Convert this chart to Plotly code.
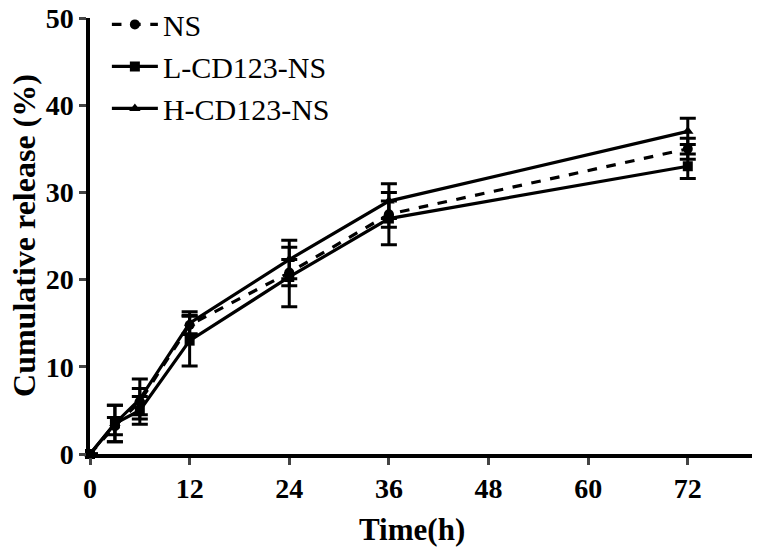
import plotly.graph_objects as go

time_h = [0, 3, 6, 12, 24, 36, 72]
ns = [0, 3.2, 6.0, 14.8, 20.8, 27.5, 35.0]
ns_err = [0, 1.0, 1.5, 1.0, 1.5, 1.5, 1.2]
l_cd = [0, 3.5, 5.0, 13.0, 20.3, 27.0, 33.0]
l_err = [0, 2.1, 1.6, 2.9, 3.4, 3.0, 1.4]
h_cd = [0, 3.5, 6.3, 15.0, 22.3, 29.0, 37.0]
h_err = [0, 2.1, 2.3, 1.3, 2.2, 2.0, 1.5]
x_ticks = [0, 12, 24, 36, 48, 60, 72]
y_ticks = [0, 10, 20, 30, 40, 50]

FONT = "Liberation Serif, Times New Roman, serif"

fig = go.Figure()
series = [
    ("NS", ns, ns_err, "circle", "dash"),
    ("L-CD123-NS", l_cd, l_err, "square", "solid"),
    ("H-CD123-NS", h_cd, h_err, "triangle-up", "solid"),
]
for i, (name, y, e, sym, dash) in enumerate(series):
    fig.add_trace(go.Scatter(
        x=time_h, y=y, name=name, mode="lines+markers",
        line=dict(color="black", width=3.2, dash=dash),
        marker=dict(symbol=sym, size=10, color="black"),
        error_y=dict(type="data", array=e, visible=True, color="black", thickness=3, width=8),
        cliponaxis=False, legendgroup=f"g{i}",
    ))

fig.update_layout(
    width=760, height=554,
    margin=dict(l=82, r=3, t=10, b=108, autoexpand=False),
    plot_bgcolor="white", paper_bgcolor="white",
    font=dict(family=FONT, color="black"),
    showlegend=True,
    legend=dict(x=0.025, y=1.045, xanchor="left", yanchor="top",
                font=dict(family=FONT, size=30, color="black"),
                itemwidth=46, tracegroupgap=0, bgcolor="rgba(0,0,0,0)"),
    xaxis=dict(range=[0, 81.3], tickvals=x_ticks, ticks="outside", ticklen=7, tickwidth=3,
               showline=True, linewidth=3.5, linecolor="black", showgrid=False, zeroline=False,
               automargin=False, ticklabeloverflow="allow",
               tickfont=dict(family=FONT, size=28, color="black", weight="bold")),
    yaxis=dict(range=[0, 50], tickvals=y_ticks, ticks="outside", ticklen=7, tickwidth=3,
               showline=True, linewidth=3.5, linecolor="black", showgrid=False, zeroline=False,
               automargin=False, ticklabeloverflow="allow",
               tickfont=dict(family=FONT, size=28, color="black", weight="bold")),
    annotations=[
        dict(text="<b>Cumulative release (%)</b>", textangle=-90,
             xref="paper", yref="paper", x=-0.098, y=0.502,
             xanchor="center", yanchor="middle", showarrow=False,
             font=dict(family=FONT, size=32, color="black")),
        dict(text="<b>Time(h)</b>",
             xref="paper", yref="paper", x=0.477, y=-0.174,
             xanchor="center", yanchor="middle", showarrow=False,
             font=dict(family=FONT, size=31, color="black")),
    ],
)

fig.write_html("out.html")
